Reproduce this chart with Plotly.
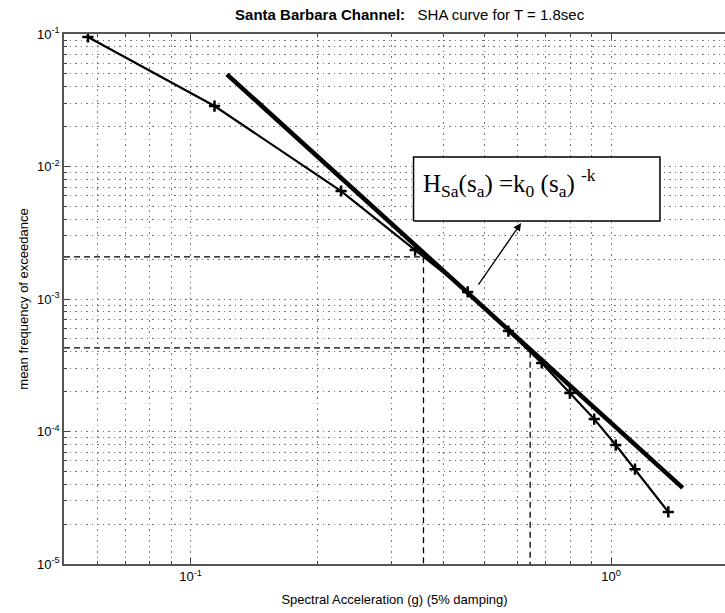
import numpy as np
import plotly.graph_objects as go

# Seismic hazard curve: spectral acceleration (g) vs mean annual frequency of exceedance
sa_values = [0.057, 0.114, 0.228, 0.342, 0.456, 0.570, 0.684, 0.798, 0.912, 1.026, 1.140, 1.368]
hazard_values = [0.0949, 0.0286, 0.00653, 0.00234, 0.00113, 5.73e-4, 3.29e-4,
                 1.95e-4, 1.24e-4, 7.9e-5, 5.2e-5, 2.47e-5]

# Power-law approximation H(sa) = k0 * sa^-k
k0 = 1.16e-4
k = 2.88
fit_sa = [0.122, 1.48]

# Guide lines (sa, H) read down to the axes
guide_sa = [0.358, 0.642]
guide_h = [2.08e-3, 4.27e-4]

# Formula callout box corners and arrow (sa, H)
box_sa = [0.339, 1.307]
box_h = [3.88e-3, 0.0118]
arrow_tail = (0.481, 1.25e-3)
arrow_head = (0.611, 3.75e-3)

x_min, x_max = 0.05, 1.866
y_min, y_max = 1e-5, 1e-1

x_major = [0.1, 1.0]
x_minor = [m * 10.0 ** e for e in (-2, -1, 0) for m in range(2, 10)
           if x_min <= m * 10.0 ** e <= x_max]
y_major = [1e-5, 1e-4, 1e-3, 1e-2, 1e-1]
y_minor = [m * 10.0 ** e for e in (-5, -4, -3, -2) for m in range(2, 10)]

fig = go.Figure()

fig.add_trace(go.Scatter(
    x=sa_values, y=hazard_values, mode="lines+markers",
    line=dict(color="black", width=2.2),
    marker=dict(symbol="cross-thin", size=8, line=dict(color="black", width=2.5)),
    showlegend=False))

fit_h = [k0 * s ** (-k) for s in fit_sa]
fig.add_trace(go.Scatter(
    x=fit_sa, y=fit_h, mode="lines",
    line=dict(color="black", width=4.5), showlegend=False))

for s, h in zip(guide_sa, guide_h):
    fig.add_trace(go.Scatter(
        x=[x_min, s, s], y=[h, h, y_min], mode="lines",
        line=dict(color="black", width=1.3, dash="6px,4px"),
        showlegend=False))

fig.add_trace(go.Scatter(
    x=[box_sa[0], box_sa[1], box_sa[1], box_sa[0], box_sa[0]],
    y=[box_h[0], box_h[0], box_h[1], box_h[1], box_h[0]],
    mode="lines", fill="toself", fillcolor="white",
    line=dict(color="black", width=1.5), showlegend=False))

fig.add_annotation(
    x=np.log10(box_sa[0]) + 0.017, y=np.log10(box_h[1]) - 0.2,
    xref="x", yref="y", xanchor="left", yanchor="middle", showarrow=False,
    text="H<sub>Sa</sub>(s<sub>a</sub>) =k<sub>0</sub> (s<sub>a</sub>) <sup>-k</sup>",
    font=dict(family="Liberation Serif", size=25, color="black"))

fig.add_annotation(
    x=np.log10(arrow_head[0]), y=np.log10(arrow_head[1]),
    ax=np.log10(arrow_tail[0]), ay=np.log10(arrow_tail[1]),
    xref="x", yref="y", axref="x", ayref="y", text="", showarrow=True,
    arrowhead=2, arrowsize=1.2, arrowwidth=1.3, arrowcolor="black")

grid = dict(gridcolor="#7a7a7a", griddash="1.5px,4px", gridwidth=1)

fig.update_xaxes(
    type="log", range=[np.log10(x_min), np.log10(x_max)],
    tickvals=x_major, ticktext=["10<sup>-1</sup>", "10<sup>0</sup>"],
    ticks="inside", ticklen=6, tickcolor="#444", showline=True,
    linecolor="#555", linewidth=1.5, mirror="ticks", zeroline=False,
    minor=dict(tickvals=x_minor, ticks="inside", ticklen=3, tickcolor="#444",
               showgrid=True, **grid),
    showgrid=True, **grid,
    tickfont=dict(family="Liberation Sans", size=13, color="black"),
    title=dict(text="Spectral Acceleration (g) (5% damping)", standoff=12,
               font=dict(family="Liberation Sans", size=13, color="black")))

fig.update_yaxes(
    type="log", range=[np.log10(y_min), np.log10(y_max)],
    tickvals=y_major,
    ticktext=["10<sup>-5</sup>", "10<sup>-4</sup>", "10<sup>-3</sup>",
              "10<sup>-2</sup>", "10<sup>-1</sup>"],
    ticks="inside", ticklen=6, tickcolor="#444", showline=True,
    linecolor="#555", linewidth=1.5, zeroline=False,
    minor=dict(tickvals=y_minor, ticks="inside", ticklen=3, tickcolor="#444",
               showgrid=True, **grid),
    showgrid=True, **grid,
    tickfont=dict(family="Liberation Sans", size=13, color="black"),
    title=dict(text="mean frequency of exceedance", standoff=6,
               font=dict(family="Liberation Sans", size=13, color="black")))

fig.update_layout(
    width=725, height=613,
    margin=dict(l=64, r=0, t=34, b=49, autoexpand=False),
    paper_bgcolor="white", plot_bgcolor="white",
    title=dict(text="<b>Santa Barbara Channel:</b>   SHA curve for T = 1.8sec",
               x=0.565, xanchor="center", y=0.985, yanchor="top",
               font=dict(family="Liberation Sans", size=15, color="black")))

fig.write_html("out.html")
